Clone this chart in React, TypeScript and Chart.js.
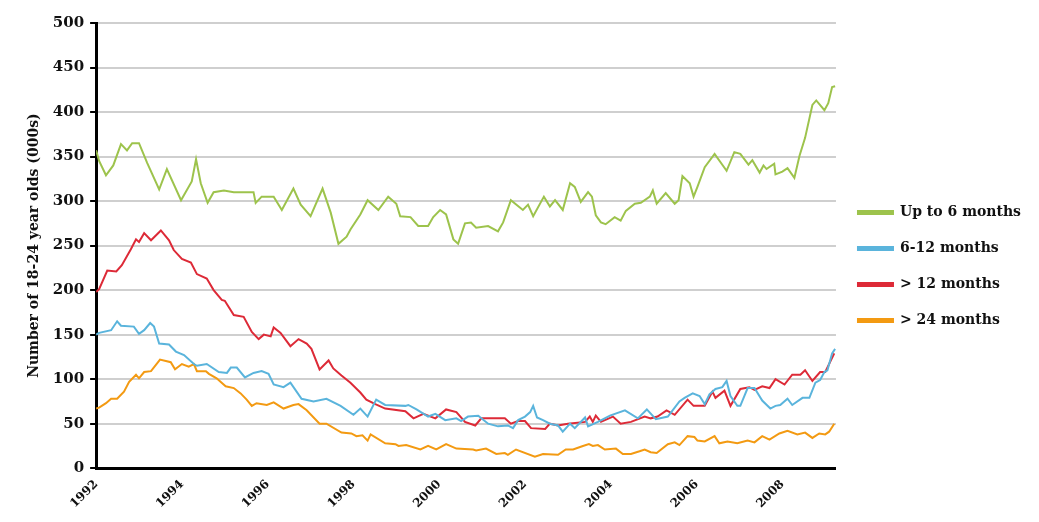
import React, { useEffect, useRef } from "react";
import { Chart, registerables } from "chart.js";
Chart.register(...registerables);

const seriesNames = ["Up to 6 months", "6-12 months", "> 12 months", "> 24 months"];
const seriesColors = ["#9dc34c", "#5ab4dc", "#dd2a37", "#f39a12"];

const upTo6: [number, number][] = [
  [1992.0,357],[1992.07,345],[1992.23,329],[1992.4,340],[1992.58,364],[1992.72,357],[1992.84,365],[1993.0,365],[1993.19,343],[1993.47,313],[1993.65,336],[1993.98,301],
  [1994.23,322],[1994.33,347],[1994.44,320],[1994.6,298],[1994.74,310],[1994.98,312],[1995.21,310],[1995.44,310],[1995.67,310],[1995.72,298],[1995.86,305],
  [1996.14,305],[1996.33,290],[1996.6,314],[1996.77,296],[1997.0,283],[1997.28,314],[1997.47,287],[1997.65,252],[1997.84,260],[1997.93,268],
  [1998.16,285],[1998.33,301],[1998.58,290],[1998.81,305],[1999.0,297],[1999.09,283],[1999.33,282],[1999.51,272],[1999.74,272],[1999.86,282],
  [2000.02,290],[2000.16,285],[2000.33,257],[2000.44,252],[2000.6,275],[2000.74,276],[2000.86,270],[2001.14,272],[2001.37,266],[2001.49,276],[2001.67,301],[2001.95,290],
  [2002.07,296],[2002.19,283],[2002.44,305],[2002.58,294],[2002.7,301],[2002.88,290],[2003.05,320],[2003.16,316],[2003.3,299],[2003.47,310],[2003.56,305],[2003.65,284],[2003.77,276],[2003.88,274],
  [2004.09,282],[2004.23,278],[2004.35,289],[2004.56,297],[2004.7,298],[2004.91,305],[2004.98,312],[2005.07,297],[2005.28,309],[2005.49,297],[2005.58,301],[2005.67,328],[2005.84,320],[2005.93,305],
  [2006.02,316],[2006.19,338],[2006.42,353],[2006.7,334],[2006.88,355],[2007.02,353],[2007.21,341],[2007.3,346],[2007.47,332],[2007.56,340],[2007.63,336],[2007.81,342],[2007.84,330],
  [2008.0,333],[2008.12,337],[2008.28,326],[2008.4,351],[2008.53,371],[2008.7,408],[2008.79,413],[2008.98,402],[2009.07,410],[2009.16,428],[2009.23,429]
];
const m6to12: [number, number][] = [
  [1992.0,150],[1992.07,152],[1992.35,155],[1992.49,165],[1992.58,160],[1992.88,159],[1993.0,151],[1993.12,155],[1993.26,163],[1993.35,159],[1993.47,140],[1993.7,139],[1993.86,131],
  [1994.05,127],[1994.28,117],[1994.35,115],[1994.58,117],[1994.86,108],[1995.05,107],[1995.14,113],[1995.28,113],[1995.47,102],[1995.67,107],[1995.86,109],
  [1996.02,106],[1996.14,94],[1996.37,91],[1996.53,96],[1996.79,78],[1997.07,75],[1997.37,78],[1997.7,70],[1998.0,60],[1998.16,67],[1998.33,58],[1998.53,77],[1998.74,71],
  [1999.21,70],[1999.28,71],[1999.47,66],[1999.74,58],[1999.91,61],[2000.14,54],[2000.4,56],[2000.51,53],[2000.67,58],[2000.91,59],[2001.14,50],[2001.37,47],[2001.6,48],[2001.72,45],[2001.84,54],
  [2002.0,58],[2002.12,63],[2002.19,70],[2002.28,57],[2002.42,54],[2002.58,50],[2002.77,48],[2002.88,41],[2003.05,50],[2003.16,45],[2003.4,57],[2003.47,47],[2003.7,52],[2003.98,59],
  [2004.33,65],[2004.63,56],[2004.84,66],[2005.05,55],[2005.33,58],[2005.6,75],[2005.72,79],[2005.91,84],[2006.07,81],[2006.19,72],[2006.3,83],[2006.44,89],[2006.6,91],[2006.7,98],[2006.79,81],[2006.95,70],
  [2007.02,70],[2007.19,90],[2007.35,90],[2007.53,76],[2007.72,67],[2007.84,70],[2007.95,71],[2008.12,78],[2008.23,71],[2008.47,79],[2008.63,79],[2008.77,96],[2008.88,99],[2008.98,108],[2009.05,110],[2009.16,129],[2009.23,134]
];
const over12: [number, number][] = [
  [1992.0,198],[1992.07,201],[1992.26,222],[1992.47,221],[1992.6,228],[1992.81,246],[1992.93,257],[1993.0,254],[1993.12,264],[1993.28,256],[1993.51,267],[1993.7,256],[1993.81,245],
  [1994.0,235],[1994.21,231],[1994.35,218],[1994.58,213],[1994.74,200],[1994.93,189],[1995.0,188],[1995.21,172],[1995.44,170],[1995.63,153],[1995.79,145],[1995.91,150],
  [1996.07,148],[1996.14,158],[1996.3,152],[1996.53,137],[1996.72,145],[1996.91,140],[1997.02,134],[1997.21,111],[1997.42,121],[1997.53,112],[1997.72,104],[1997.93,96],
  [1998.16,85],[1998.3,77],[1998.51,72],[1998.74,67],[1999.21,64],[1999.4,56],[1999.63,61],[1999.91,56],[2000.16,66],[2000.4,63],[2000.6,52],[2000.84,48],[2000.98,56],
  [2001.53,56],[2001.67,50],[2001.84,53],[2002.0,53],[2002.14,45],[2002.47,44],[2002.58,50],[2002.77,48],[2003.0,50],[2003.4,52],[2003.51,58],[2003.58,52],[2003.65,59],[2003.77,52],
  [2004.05,58],[2004.23,50],[2004.47,52],[2004.79,58],[2004.93,56],[2005.09,58],[2005.3,65],[2005.49,60],[2005.79,77],[2005.93,70],[2006.19,70],[2006.37,86],[2006.44,79],[2006.65,87],[2006.79,70],
  [2007.02,89],[2007.23,91],[2007.35,88],[2007.53,92],[2007.7,90],[2007.84,100],[2008.05,94],[2008.23,105],[2008.42,105],[2008.53,110],[2008.7,98],[2008.88,108],[2009.0,108],[2009.21,129]
];
const over24: [number, number][] = [
  [1992.0,67],[1992.07,68],[1992.23,73],[1992.35,78],[1992.49,78],[1992.65,86],[1992.77,97],[1992.93,105],[1993.0,101],[1993.12,108],[1993.28,109],[1993.49,122],[1993.74,119],[1993.84,111],
  [1994.0,117],[1994.16,114],[1994.28,117],[1994.35,109],[1994.56,109],[1994.63,106],[1994.81,101],[1995.02,92],[1995.21,90],[1995.37,84],[1995.51,77],[1995.63,70],[1995.74,73],[1995.98,71],
  [1996.14,74],[1996.37,67],[1996.6,71],[1996.72,72],[1996.91,65],[1997.21,50],[1997.37,50],[1997.72,40],[1997.95,39],[1998.07,36],[1998.21,37],[1998.33,31],[1998.4,38],[1998.74,28],[1998.98,27],
  [1999.05,25],[1999.23,26],[1999.56,21],[1999.74,25],[1999.93,21],[2000.16,27],[2000.4,22],[2000.79,21],[2000.86,20],[2001.09,22],[2001.33,16],[2001.53,17],[2001.6,15],[2001.79,21],
  [2002.23,13],[2002.42,16],[2002.77,15],[2002.95,21],[2003.12,21],[2003.35,25],[2003.49,27],[2003.58,25],[2003.7,26],[2003.86,21],[2004.12,22],[2004.28,16],[2004.47,16],[2004.67,19],[2004.79,21],[2004.93,18],
  [2005.07,17],[2005.33,27],[2005.49,29],[2005.6,26],[2005.79,36],[2005.95,35],[2006.02,31],[2006.19,30],[2006.42,36],[2006.53,28],[2006.72,30],[2006.95,28],[2007.19,31],[2007.35,29],[2007.53,36],[2007.7,32],[2007.93,39],
  [2008.12,42],[2008.35,38],[2008.53,40],[2008.7,34],[2008.86,39],[2009.0,38],[2009.09,41],[2009.21,50]
];
const allSeries = [upTo6, m6to12, over12, over24];
const yearTicks = [1992, 1994, 1996, 1998, 2000, 2002, 2004, 2006, 2008];

const FONT = "'DejaVu Serif', serif";

export default function App() {
  const ref = useRef<HTMLCanvasElement>(null);
  useEffect(() => {
    if (!ref.current) return;
    const chart = new Chart(ref.current, {
      type: "line",
      data: {
        datasets: allSeries.map((s, i) => ({
          label: seriesNames[i],
          data: s.map(([x, y]) => ({ x, y })),
          borderColor: seriesColors[i],
          backgroundColor: seriesColors[i],
          borderWidth: 2,
          pointRadius: 0,
          tension: 0,
        })),
      },
      options: {
        animation: false,
        responsive: true,
        maintainAspectRatio: false,
        layout: { padding: { top: 11, right: 0, bottom: 0, left: 14 } },
        plugins: {
          tooltip: { enabled: false },
          legend: {
            position: "right",
            labels: {
              boxWidth: 35,
              boxHeight: 3,
              padding: 22,
              color: "#111",
              font: { family: FONT, size: 14, weight: "bold" },
            },
          },
        },
        scales: {
          x: {
            type: "linear",
            min: 1992,
            max: 2009.25,
            afterBuildTicks: (ax: any) => { ax.ticks = yearTicks.map((v) => ({ value: v })); },
            grid: { display: false, drawTicks: true, tickLength: 6, color: "#000" },
            border: { color: "#000", width: 3 },
            ticks: {
              color: "#111",
              maxRotation: 45,
              minRotation: 45,
              autoSkip: false,
              callback: (v: any) => String(v),
              font: { family: FONT, size: 12, weight: "bold" },
            },
          },
          y: {
            min: 0,
            max: 500,
            ticks: { stepSize: 50, color: "#111", padding: 6, font: { family: FONT, size: 15, weight: "bold" } },
            grid: { color: "#cfcfcf", lineWidth: 2, tickLength: 6, tickColor: "#000" },
            border: { color: "#000", width: 3 },
            title: {
              display: true,
              text: "Number of 18-24 year olds (000s)",
              color: "#111",
              font: { family: FONT, size: 14, weight: "bold" },
            },
          },
        },
      },
    });
    return () => chart.destroy();
  }, []);
  return (
    <div style={{ width: 1023, height: 506 }}>
      <canvas ref={ref} />
    </div>
  );
}
